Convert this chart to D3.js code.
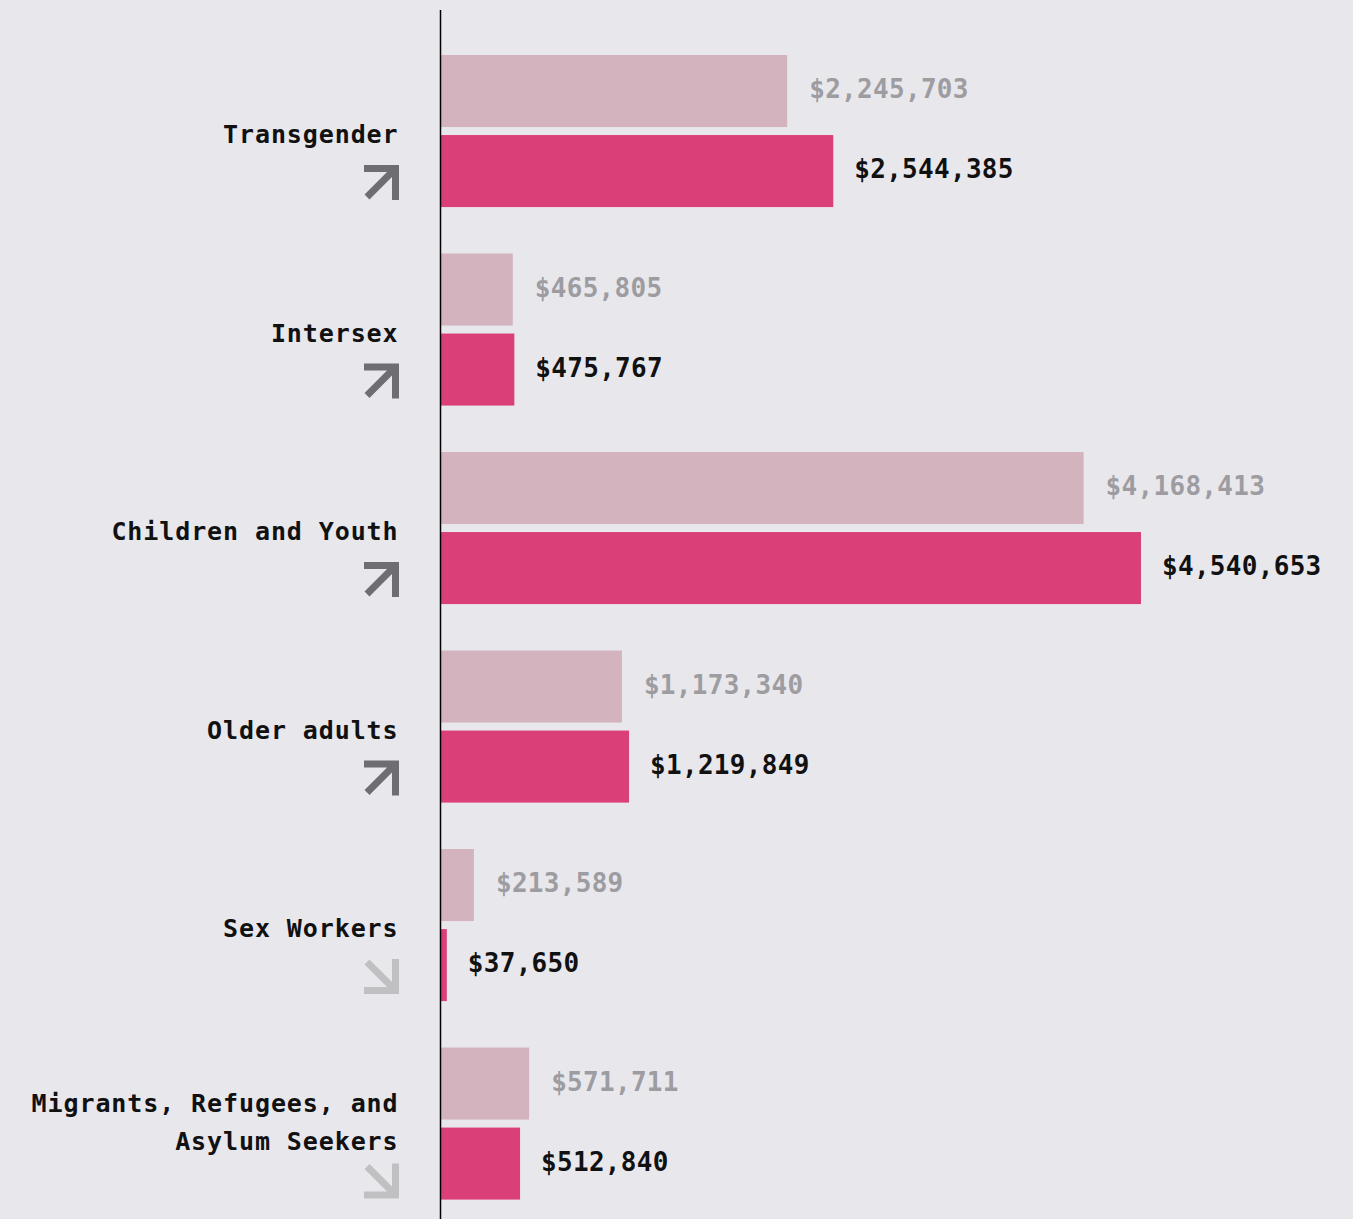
<!DOCTYPE html>
<html>
<head>
<meta charset="utf-8">
<script src="https://cdn.jsdelivr.net/npm/d3@7"></script>
<style>
  html, body { margin: 0; padding: 0; background: #e8e7ec; }
  svg { display: block; }
  text { font-family: "DejaVu Sans Mono", "Liberation Mono", monospace; font-weight: bold; }
</style>
</head>
<body>
<svg id="chart" width="1353" height="1219"></svg>
<script>
const categories = [
  ["Transgender"],
  ["Intersex"],
  ["Children and Youth"],
  ["Older adults"],
  ["Sex Workers"],
  ["Migrants, Refugees, and", "Asylum Seekers"]
];
const previousValues = [2245703, 465805, 4168413, 1173340, 213589, 571711];
const currentValues  = [2544385, 475767, 4540653, 1219849, 37650, 512840];

const W = 1353, H = 1219;
const svg = d3.select("#chart");
svg.append("rect").attr("width", W).attr("height", H).attr("fill", "#e8e7ec");

const keys = categories.map(c => c.join(" "));
const x = d3.scaleLinear().domain([0, 4540653]).range([441, 1141]);
const y = d3.scaleBand().domain(keys).range([55, 1199.6]).paddingInner(0.234).paddingOuter(0);
const sub = d3.scaleBand().domain(["prev", "curr"]).range([0, y.bandwidth()]).paddingInner(0.1);

const fmt = d3.format("$,");

const data = keys.map((k, i) => ({
  key: k, lines: categories[i], prev: previousValues[i], curr: currentValues[i]
}));

const g = svg.selectAll("g.group").data(data).join("g")
  .attr("class", "group")
  .attr("transform", d => `translate(0,${y(d.key)})`);

// previous bars
g.append("rect")
  .attr("x", x(0)).attr("y", sub("prev"))
  .attr("width", d => x(d.prev) - x(0))
  .attr("height", sub.bandwidth())
  .attr("fill", "#d3b3bd");
g.append("text")
  .attr("x", d => x(d.prev) + 22)
  .attr("y", sub("prev") + sub.bandwidth() / 2 - 2)
  .attr("dy", "0.35em")
  .attr("font-size", 26).attr("letter-spacing", 0.3)
  .attr("fill", "#9d9ca1")
  .text(d => fmt(d.prev));

// current bars
g.append("rect")
  .attr("x", x(0)).attr("y", sub("curr"))
  .attr("width", d => x(d.curr) - x(0))
  .attr("height", sub.bandwidth())
  .attr("fill", "#db3f78");
g.append("text")
  .attr("x", d => x(d.curr) + 21)
  .attr("y", sub("curr") + sub.bandwidth() / 2 - 2)
  .attr("dy", "0.35em")
  .attr("font-size", 26).attr("letter-spacing", 0.3)
  .attr("fill", "#111")
  .text(d => fmt(d.curr));

// category labels
const mid = y.bandwidth() / 2;
g.each(function(d) {
  const sel = d3.select(this);
  const n = d.lines.length;
  const lh = 38;
  const firstBase = n === 1 ? mid + 12 : mid - 12;
  d.lines.forEach((ln, j) => {
    sel.append("text")
      .attr("x", 398.5).attr("y", firstBase + j * lh)
      .attr("text-anchor", "end")
      .attr("font-size", 25).attr("letter-spacing", 0.9)
      .attr("fill", "#111")
      .text(ln);
  });
  const lastBase = firstBase + (n - 1) * lh;
  const top = Math.max(mid + 34, lastBase + 14);
  const up = d.curr > d.prev;
  const s = 35, x0 = 364, sw = 7;
  let path;
  if (up) {
    path = `M${x0},${top + sw/2} L${x0 + s - sw/2},${top + sw/2} L${x0 + s - sw/2},${top + s} M${x0 + s - sw/2},${top + sw/2} L${x0 + 3},${top + s - 3}`;
  } else {
    path = `M${x0 + s - sw/2},${top} L${x0 + s - sw/2},${top + s - sw/2} L${x0},${top + s - sw/2} M${x0 + s - sw/2},${top + s - sw/2} L${x0 + 3},${top + 3}`;
  }
  sel.append("path")
    .attr("d", path)
    .attr("fill", "none")
    .attr("stroke", up ? "#6d6d72" : "#c0c0c3")
    .attr("stroke-width", sw)
    .attr("stroke-linejoin", "miter")
    .attr("stroke-linecap", "butt");
});

// axis line
svg.append("line")
  .attr("x1", 440.5).attr("x2", 440.5)
  .attr("y1", 10).attr("y2", H)
  .attr("stroke", "#000").attr("stroke-width", 1.5);
</script>
</body>
</html>
